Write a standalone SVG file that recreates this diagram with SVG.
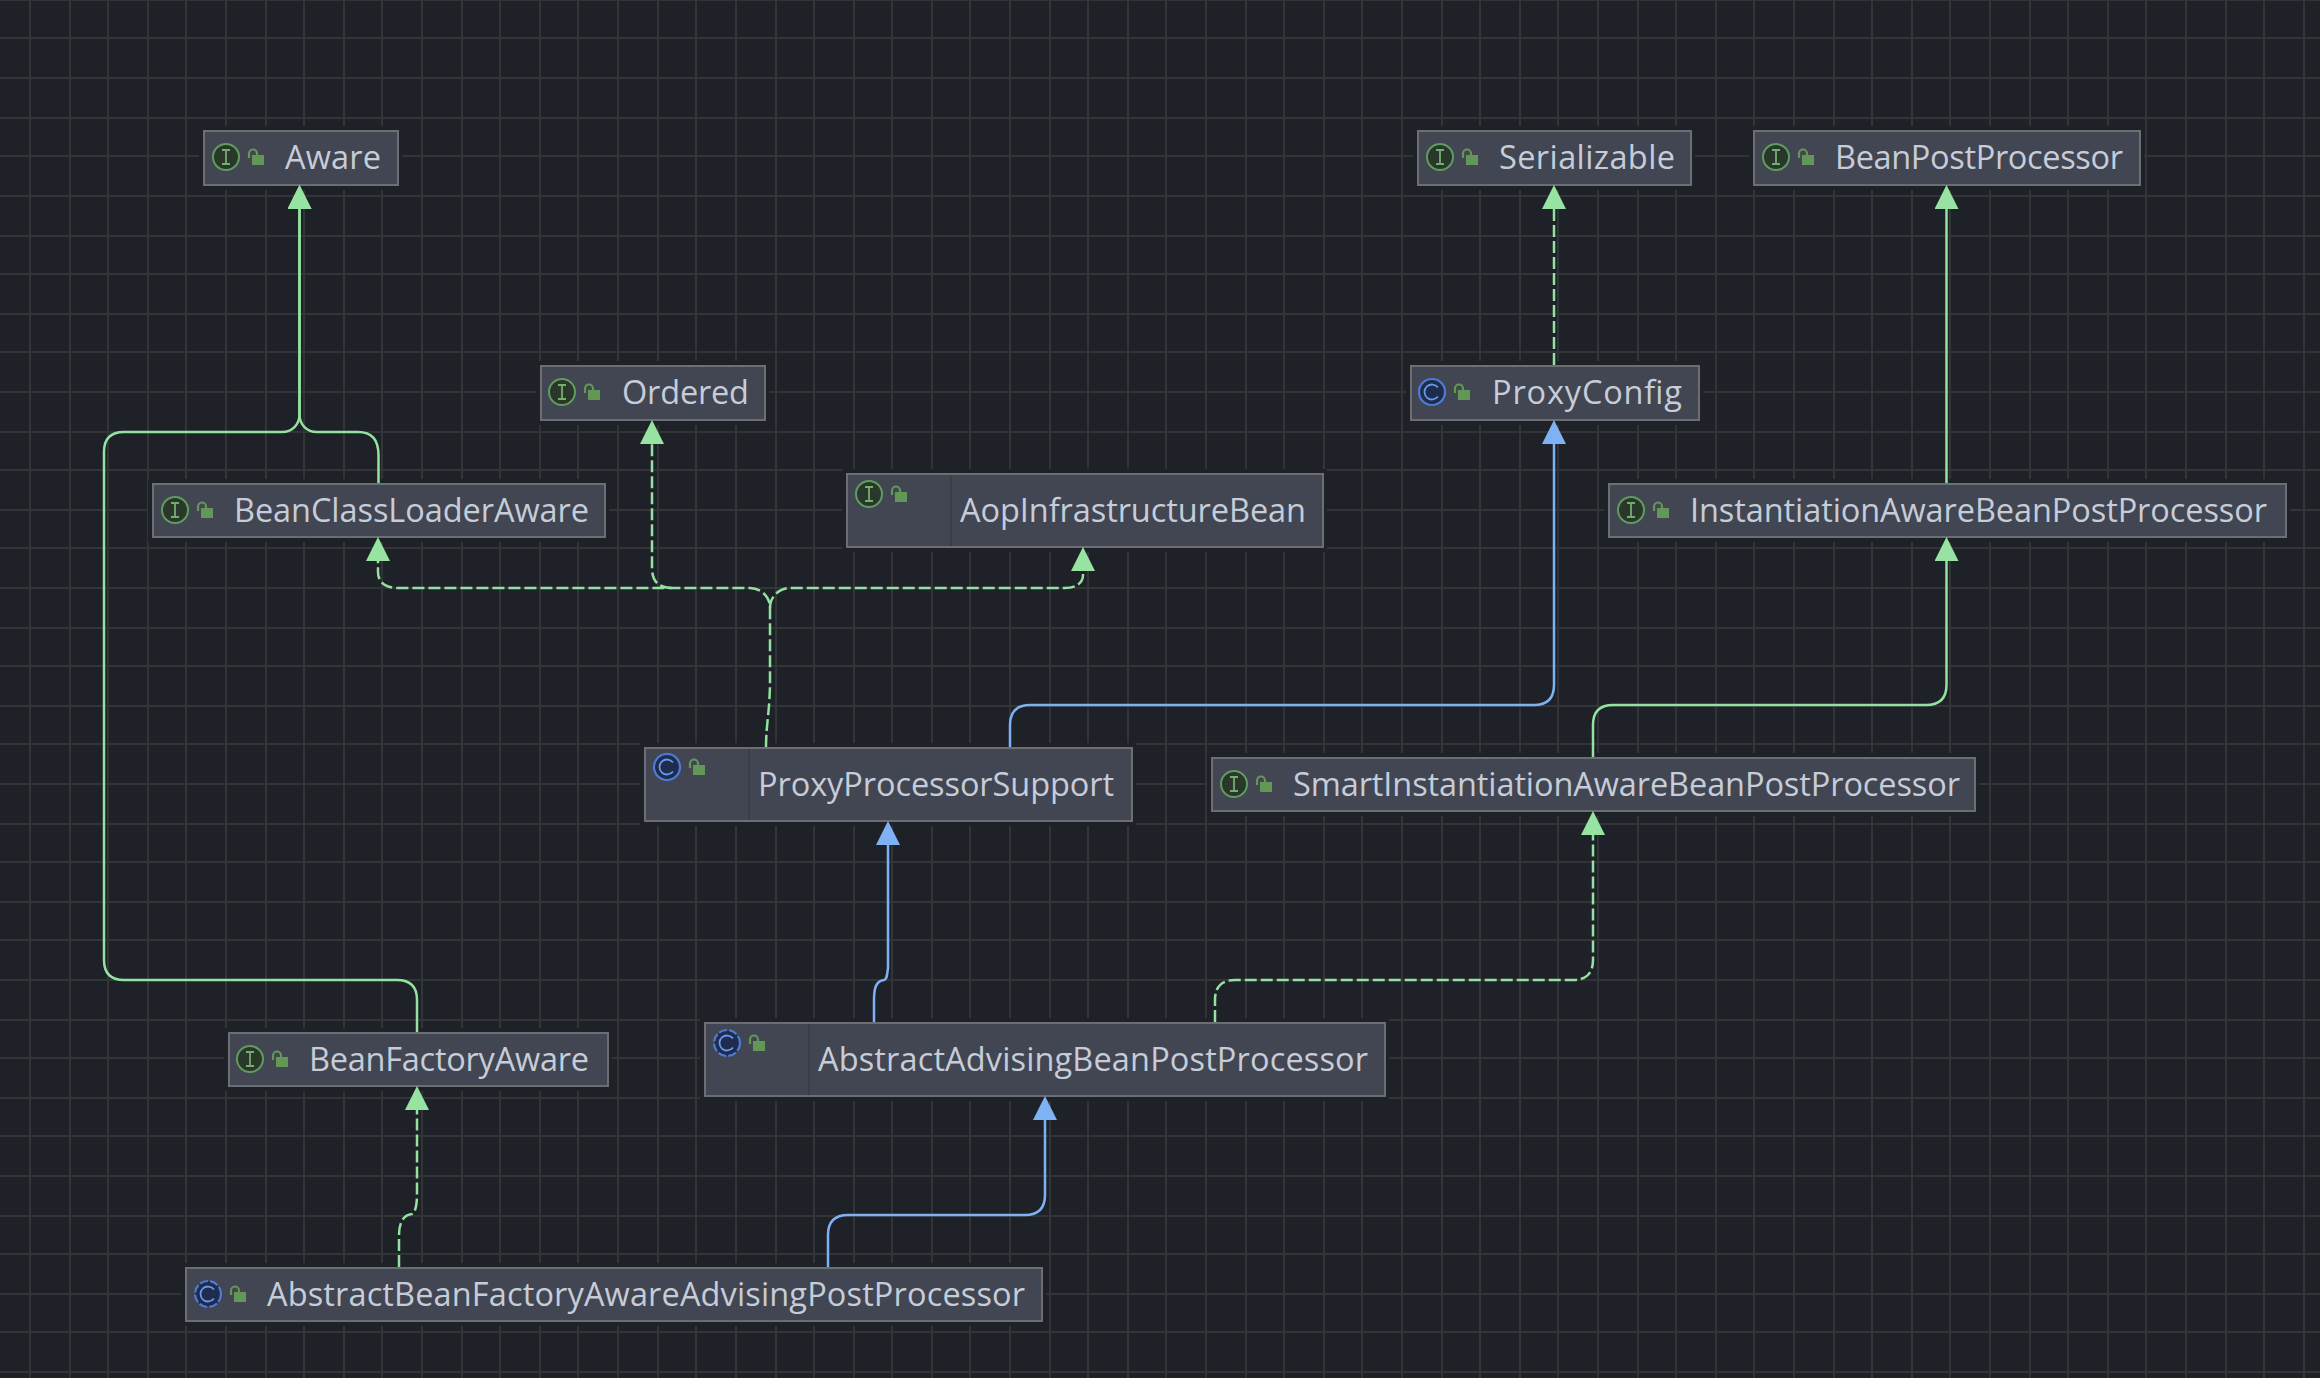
<svg xmlns="http://www.w3.org/2000/svg" xmlns:xlink="http://www.w3.org/1999/xlink" width="2320" height="1378" viewBox="0 0 2320 1378">
<style>
.grid{fill:none;stroke:#333436;stroke-width:2;shape-rendering:crispEdges}
.halo{fill:#1e2128}
.box{fill:#414652;stroke:#6c6e72;stroke-width:2}
.div{stroke:#393d47;stroke-width:1.5}
text{font-family:"Open Sans","Liberation Sans",sans-serif;font-size:32.5px;fill:#c6ccd8}
.g{fill:none;stroke:#94e29f;stroke-width:2.5}
.b{fill:none;stroke:#7fb2f5;stroke-width:2.5}
.d{stroke-dasharray:12 4}
.mg{marker-end:url(#ag)}
.mb{marker-end:url(#ab)}
</style>
<defs>
<marker id="ag" markerUnits="userSpaceOnUse" viewBox="0 0 24 24" refX="0" refY="12" markerWidth="24" markerHeight="24" orient="auto"><path d="M0 0L24 12L0 24Z" fill="#97e4a2"/></marker>
<marker id="ab" markerUnits="userSpaceOnUse" viewBox="0 0 24 24" refX="0" refY="12" markerWidth="24" markerHeight="24" orient="auto"><path d="M0 0L24 12L0 24Z" fill="#7fb2f5"/></marker>
<g id="lock"><rect x="26" y="-2" width="12" height="10" fill="#629755"/><path d="M23 1V-3.5A4 4 0 0 1 31 -3.5V-2" fill="none" stroke="#629755" stroke-width="2.2"/></g>
<g id="iI"><circle r="13" fill="#2a372b" stroke="#5f9c5e" stroke-width="2"/><path d="M-4 -7H4M-4 7H4M0 -7V7" fill="none" stroke="#74ad6f" stroke-width="1.8"/><use xlink:href="#lock" href="#lock"/></g>
<g id="iC"><circle r="13" fill="#1e2c4e" stroke="#4f7bd6" stroke-width="2.2"/><path d="M6 -4.5A7.5 7.5 0 1 0 6 4.5" fill="none" stroke="#6d97ea" stroke-width="1.8"/><use xlink:href="#lock" href="#lock"/></g>
<g id="iA"><circle r="13" fill="#1e2c4e" stroke="#4f7bd6" stroke-width="2.2" stroke-dasharray="8.5 2"/><path d="M6 -4.5A7.5 7.5 0 1 0 6 4.5" fill="none" stroke="#6d97ea" stroke-width="1.8"/><use xlink:href="#lock" href="#lock"/></g>
</defs>
<rect width="2320" height="1378" fill="#1e2128"/>
<path class="grid" d="M30 0V1378M70 0V1378M108 0V1378M148 0V1378M186 0V1378M226 0V1378M266 0V1378M304 0V1378M344 0V1378M382 0V1378M422 0V1378M462 0V1378M500 0V1378M540 0V1378M578 0V1378M618 0V1378M658 0V1378M696 0V1378M736 0V1378M776 0V1378M814 0V1378M854 0V1378M892 0V1378M932 0V1378M970 0V1378M1010 0V1378M1050 0V1378M1088 0V1378M1128 0V1378M1166 0V1378M1206 0V1378M1246 0V1378M1284 0V1378M1324 0V1378M1362 0V1378M1402 0V1378M1442 0V1378M1480 0V1378M1520 0V1378M1558 0V1378M1598 0V1378M1638 0V1378M1676 0V1378M1716 0V1378M1754 0V1378M1794 0V1378M1834 0V1378M1872 0V1378M1912 0V1378M1950 0V1378M1990 0V1378M2030 0V1378M2068 0V1378M2108 0V1378M2146 0V1378M2186 0V1378M2226 0V1378M2264 0V1378M2304 0V1378M0 0H2320M0 38H2320M0 78H2320M0 118H2320M0 156H2320M0 196H2320M0 236H2320M0 274H2320M0 314H2320M0 352H2320M0 392H2320M0 432H2320M0 470H2320M0 510H2320M0 548H2320M0 588H2320M0 628H2320M0 666H2320M0 706H2320M0 744H2320M0 784H2320M0 824H2320M0 862H2320M0 902H2320M0 940H2320M0 980H2320M0 1020H2320M0 1058H2320M0 1098H2320M0 1136H2320M0 1176H2320M0 1216H2320M0 1254H2320M0 1294H2320M0 1332H2320M0 1372H2320"/>
<g id="halos" class="halo">
<rect x="199" y="126" width="203" height="64"/><rect x="1413" y="126" width="282" height="64"/><rect x="1749" y="126" width="395" height="64"/><rect x="536" y="361" width="233" height="64"/><rect x="1406" y="361" width="297" height="64"/><rect x="148" y="479" width="461" height="63"/><rect x="842" y="469" width="485" height="83"/><rect x="1604" y="479" width="686" height="63"/><rect x="640" y="743" width="496" height="83"/><rect x="1207" y="753" width="772" height="63"/><rect x="224" y="1028" width="388" height="63"/><rect x="700" y="1018" width="689" height="83"/><rect x="181" y="1263" width="865" height="63"/>
</g>
<g id="Aware"><rect class="box" x="204" y="131" width="194" height="54"/><use href="#iI" x="226" y="157"/><text x="285" y="169" textLength="96">Aware</text></g>
<g id="Serializable"><rect class="box" x="1418" y="131" width="273" height="54"/><use href="#iI" x="1440" y="157"/><text x="1499" y="169" textLength="176">Serializable</text></g>
<g id="BeanPostProcessor"><rect class="box" x="1754" y="131" width="386" height="54"/><use href="#iI" x="1776" y="157"/><text x="1835" y="169" textLength="288">BeanPostProcessor</text></g>
<g id="Ordered"><rect class="box" x="541" y="366" width="224" height="54"/><use href="#iI" x="562" y="392"/><text x="622" y="404" textLength="127">Ordered</text></g>
<g id="ProxyConfig"><rect class="box" x="1411" y="366" width="288" height="54"/><use href="#iC" x="1432" y="392"/><text x="1492" y="404" textLength="190">ProxyConfig</text></g>
<g id="BeanClassLoaderAware"><rect class="box" x="153" y="484" width="452" height="53"/><use href="#iI" x="175" y="510"/><text x="234" y="522" textLength="355">BeanClassLoaderAware</text></g>
<g id="AopInfrastructureBean"><rect class="box" x="847" y="474" width="476" height="73"/><line class="div" x1="951" y1="475" x2="951" y2="546"/><use href="#iI" x="869" y="494"/><text x="960" y="522" textLength="346">AopInfrastructureBean</text></g>
<g id="InstantiationAwareBeanPostProcessor"><rect class="box" x="1609" y="484" width="677" height="53"/><use href="#iI" x="1631" y="510"/><text x="1690" y="522" textLength="577">InstantiationAwareBeanPostProcessor</text></g>
<g id="ProxyProcessorSupport"><rect class="box" x="645" y="748" width="487" height="73"/><line class="div" x1="749" y1="749" x2="749" y2="820"/><use href="#iC" x="667" y="767"/><text x="758" y="796" textLength="356">ProxyProcessorSupport</text></g>
<g id="SmartInstantiationAwareBeanPostProcessor"><rect class="box" x="1212" y="758" width="763" height="53"/><use href="#iI" x="1234" y="784"/><text x="1293" y="796" textLength="667">SmartInstantiationAwareBeanPostProcessor</text></g>
<g id="BeanFactoryAware"><rect class="box" x="229" y="1033" width="379" height="53"/><use href="#iI" x="250" y="1059"/><text x="309" y="1071" textLength="280">BeanFactoryAware</text></g>
<g id="AbstractAdvisingBeanPostProcessor"><rect class="box" x="705" y="1023" width="680" height="73"/><line class="div" x1="809" y1="1024" x2="809" y2="1095"/><use href="#iA" x="727" y="1043"/><text x="818" y="1071" textLength="550">AbstractAdvisingBeanPostProcessor</text></g>
<g id="AbstractBeanFactoryAwareAdvisingPostProcessor"><rect class="box" x="186" y="1268" width="856" height="53"/><use href="#iA" x="208" y="1294"/><text x="267" y="1306" textLength="758">AbstractBeanFactoryAwareAdvisingPostProcessor</text></g>
<g id="connectors">
<path class="g mg" d="M417 1032V1000Q417 980 397 980H124Q104 980 104 960V452Q104 432 124 432H282C292 432 299.500 425 299.500 414V209"/>
<path class="g mg" d="M378.500 483V455Q378.500 432 358 432H317C307 432 299.500 425 299.500 414V209"/>
<path class="g d mg" d="M766 747C766 725 770 710 770 680V608C770 596 760 588 750 588H398C385 588 378 582 378 572V561"/>
<path class="g d mg" d="M672 588Q652 588 652 568V444"/>
<path class="g d mg" d="M770 608C770 596 780 588 790 588H1065C1076 588 1083 583 1083 575V571"/>
<path class="g d mg" d="M1554 365V209"/>
<path class="b mb" d="M1010 747V725Q1010 705 1030 705H1534Q1554 705 1554 685V444"/>
<path class="g mg" d="M1946.500 483V209"/>
<path class="g mg" d="M1593 757V725Q1593 705 1613 705H1926Q1946.500 705 1946.500 685V561"/>
<path class="b mb" d="M874 1022V1000C874 988 876 981 884 980C887 979.500 887 975 888 968V845"/>
<path class="g d mg" d="M1215 1022V1000Q1215 980 1235 980H1573Q1593 980 1593 960V835"/>
<path class="g d mg" d="M399 1267V1235C399 1225 402 1215 412 1214C415 1213 417 1205 417 1195V1110"/>
<path class="b mb" d="M828 1267V1235Q828 1215 848 1215H1025Q1045 1215 1045 1195V1120"/>
</g>
</svg>
